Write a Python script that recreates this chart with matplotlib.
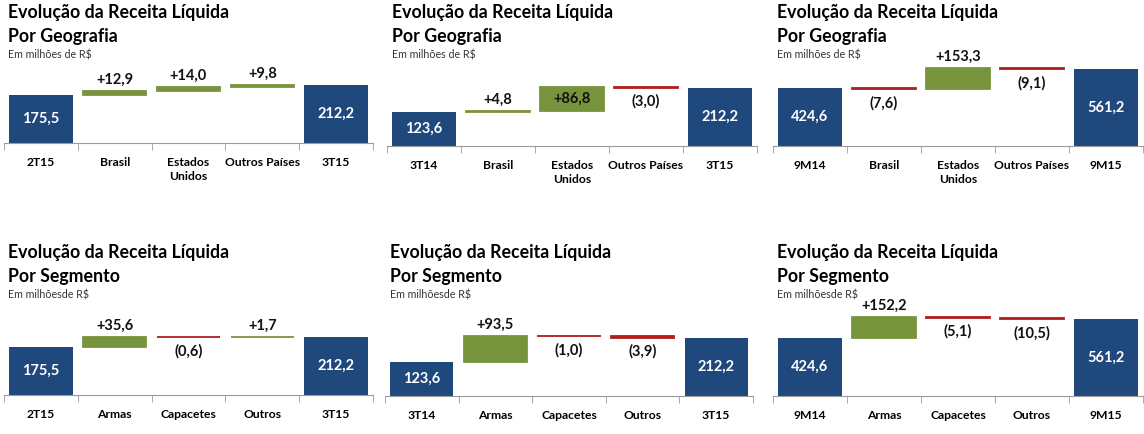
import matplotlib
matplotlib.use("Agg")
import matplotlib.pyplot as plt

plt.rcParams['font.family'] = ['Lato', 'DejaVu Sans']

# data (R$ millions)
start_labels = ["2T15", "3T14", "9M14"]
end_labels = ["3T15", "3T15", "9M15"]
start_values = [175.5, 123.6, 424.6]
end_values = [212.2, 212.2, 561.2]

geo_labels = ["Brasil", "Estados\nUnidos", "Outros Países"]
geo_changes = [[12.9, 14.0, 9.8],
               [4.8, 86.8, -3.0],
               [-7.6, 153.3, -9.1]]

seg_labels = ["Armas", "Capacetes", "Outros"]
seg_changes = [[35.6, -0.6, 1.7],
               [93.5, -1.0, -3.9],
               [152.2, -5.1, -10.5]]

BLUE = "#1F497D"
GREEN = "#77933C"
RED = "#B01E1E"
W, H = 1144, 434


def fmt(v):
    return ("%.1f" % abs(v)).replace(".", ",")


def waterfall(ax, mids, changes, col, inside=()):
    cats = [start_labels[col]] + mids + [end_labels[col]]
    ax.bar(0, start_values[col], width=0.86, color=BLUE)
    ax.text(0, start_values[col] / 2, fmt(start_values[col]), color="white",
            ha="center", va="center", fontsize=10.5, fontweight="bold")
    level = start_values[col]
    for i, d in enumerate(changes, start=1):
        c = GREEN if d > 0 else RED
        bottom = level if d > 0 else level + d
        ax.bar(i, abs(d), bottom=bottom, width=0.86, color=c, edgecolor=c, linewidth=1.3)
        if d > 0:
            if i in inside:
                ax.text(i, bottom + d / 2, "+" + fmt(d), ha="center", va="center",
                        fontsize=10.5, fontweight="bold", color="#111111")
            else:
                ax.annotate("+" + fmt(d), (i, level + d), xytext=(0, 3),
                            textcoords="offset points", ha="center", va="bottom",
                            fontsize=10.5, fontweight="bold", color="#111111")
        else:
            ax.annotate("(" + fmt(d) + ")", (i, level + d), xytext=(0, -5),
                        textcoords="offset points", ha="center", va="top",
                        fontsize=10.5, fontweight="bold", color="#111111")
        level += d
    ax.bar(4, end_values[col], width=0.86, color=BLUE)
    ax.text(4, end_values[col] / 2, fmt(end_values[col]), color="white",
            ha="center", va="center", fontsize=10.5, fontweight="bold")

    ax.set_xlim(-0.5, 4.5)
    ax.set_ylim(0, end_values[col] * 80 / (58.5 if col < 2 else 77))
    for s in ["top", "right", "left"]:
        ax.spines[s].set_visible(False)
    ax.spines["bottom"].set_color("#9A9A9A")
    ax.set_yticks([])
    ax.set_xticks(range(5))
    ax.set_xticklabels(cats, fontsize=8.7, fontweight="bold", linespacing=1.35)
    ax.set_xticks([-0.5, 0.5, 1.5, 2.5, 3.5, 4.5], minor=True)
    ax.tick_params(axis="x", which="major", length=0, pad=10)
    ax.tick_params(axis="x", which="minor", length=5, color="#9A9A9A", direction="out")


fig = plt.figure(figsize=(W / 100, H / 100), dpi=100)

top_x = [(4, 373), (387, 757), (773, 1143)]
bot_x = [(4, 373), (385, 753), (773, 1143)]
top_base = [143, 146, 146]
bot_base = [395, 396, 396]
title_x_top = [8, 392, 777]
title_x_bot = [8, 390, 777]

for col in range(3):
    x0, x1 = top_x[col]
    ax = fig.add_axes([x0 / W, 1 - top_base[col] / H, (x1 - x0) / W, 80 / H])
    waterfall(ax, geo_labels, geo_changes[col], col, inside=(2,) if col == 1 else ())
    tx = title_x_top[col] / W
    fig.text(tx, 1 - 18 / H, "Evolução da Receita Líquida", fontsize=12.8, fontweight="bold", va="baseline")
    fig.text(tx, 1 - 42 / H, "Por Geografia", fontsize=12.8, fontweight="bold", va="baseline")
    fig.text(tx, 1 - 58 / H, "Em milhões de R$", fontsize=7.7, color="#333333", va="baseline")

    x0, x1 = bot_x[col]
    ax = fig.add_axes([x0 / W, 1 - bot_base[col] / H, (x1 - x0) / W, 80 / H])
    waterfall(ax, seg_labels, seg_changes[col], col)
    tx = title_x_bot[col] / W
    fig.text(tx, 1 - 258 / H, "Evolução da Receita Líquida", fontsize=12.8, fontweight="bold", va="baseline")
    fig.text(tx, 1 - 282 / H, "Por Segmento", fontsize=12.8, fontweight="bold", va="baseline")
    fig.text(tx, 1 - 298 / H, "Em milhõesde R$", fontsize=7.7, color="#333333", va="baseline")

fig.savefig("out.png", dpi=100)
